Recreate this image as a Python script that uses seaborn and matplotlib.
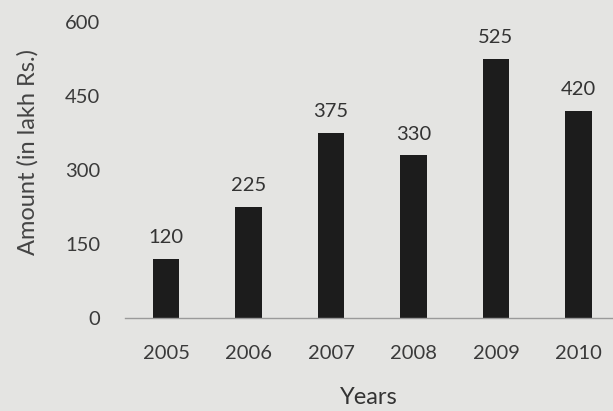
import matplotlib
matplotlib.use("Agg")
import matplotlib.pyplot as plt
import seaborn as sns
import pandas as pd

years = ["2005", "2006", "2007", "2008", "2009", "2010"]
amounts = [120, 225, 375, 330, 525, 420]
yticks = [0, 150, 300, 450, 600]

df = pd.DataFrame({"year": years, "amount": amounts})

sns.set_style("white")
plt.rcParams["font.family"] = ["Lato", "DejaVu Sans"]

bg = "#e4e4e2"
fig = plt.figure(figsize=(6.13, 4.11), dpi=100, facecolor=bg)
ax = fig.add_axes([0.204, 0.226, 0.796, 0.72])
ax.set_facecolor(bg)

sns.barplot(data=df, x="year", y="amount", color="#1c1c1c", width=0.32,
            saturation=1, edgecolor="#1c1c1c", linewidth=0, ax=ax)

# value labels above bars
for i, v in enumerate(amounts):
    ax.text(i, v + 26, str(v), ha="center", va="bottom", fontsize=14.5, color="#333333")

ax.set_xlim(-0.5, 5.42)
ax.set_ylim(0, 600)
ax.set_yticks(yticks)
ax.tick_params(axis="both", length=0, labelsize=14.5, labelcolor="#3a3a3a")
ax.tick_params(axis="y", pad=18)
ax.tick_params(axis="x", pad=19)

ax.set_ylabel("Amount (in lakh Rs.)", fontsize=17, color="#444444")
ax.yaxis.set_label_coords(-0.178, 0.56)
ax.set_xlabel("Years", fontsize=17, color="#333333", labelpad=18)

for s in ["top", "right", "left"]:
    ax.spines[s].set_visible(False)
ax.spines["bottom"].set_color("#9a9a9a")
ax.spines["bottom"].set_linewidth(1)

fig.savefig("out.png", dpi=100, facecolor=bg)
